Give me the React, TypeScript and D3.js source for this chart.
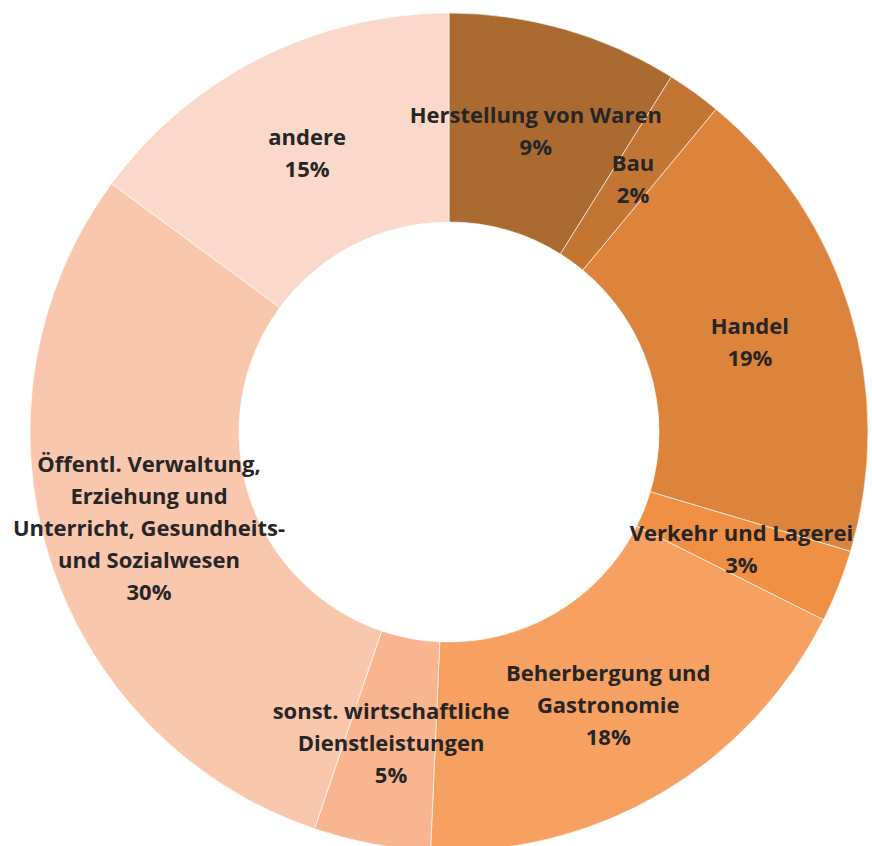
import React from "react";
import * as d3 from "d3";

const categories = [
  ["Herstellung von Waren"],
  ["Bau"],
  ["Handel"],
  ["Verkehr und Lagerei"],
  ["Beherbergung und", "Gastronomie"],
  ["sonst. wirtschaftliche", "Dienstleistungen"],
  ["Öffentl. Verwaltung,", "Erziehung und", "Unterricht, Gesundheits-", "und Sozialwesen"],
  ["andere"],
];
const values = [8.9, 2.1, 18.6, 2.8, 18.3, 4.5, 29.9, 14.9];
const colors = ["#AB6A30", "#C37534", "#DC843C", "#EF9045", "#F6A062", "#F8B590", "#F9C7AD", "#FBD9CA"];

const W = 872;
const H = 846;
const CX = 449;
const CY = 432;
const R_OUT = 419;
const R_IN = 210;
const LINE_H = 32;

export default function App() {
  const total = d3.sum(values);
  const pie = d3.pie<number>().sort(null).value((d) => d)(values);
  const arc = d3.arc<d3.PieArcDatum<number>>().innerRadius(R_IN).outerRadius(R_OUT);
  return (
    <div style={{ position: "absolute", left: 0, top: 0 }}>
      <svg width={W} height={H} style={{ display: "block" }}>
        <rect width={W} height={H} fill="#ffffff" />
        <g transform={`translate(${CX},${CY})`}>
          {pie.map((p, i) => (
            <path key={i} d={arc(p) || ""} fill={colors[i]} stroke="#ffffff" strokeOpacity={0.6} strokeWidth={1} />
          ))}
          {pie.map((p, i) => {
            const [x, y] = arc.centroid(p);
            const lines = [...categories[i], `${Math.round((values[i] / total) * 100)}%`];
            const y0 = y + 2 - ((lines.length - 1) * LINE_H) / 2;
            return (
              <text
                key={i}
                x={x}
                textAnchor="middle"
                fontFamily="'Open Sans', Lato, sans-serif"
                fontWeight="bold"
                fontSize={22}
                fill="#262626"
              >
                {lines.map((l, j) => (
                  <tspan key={j} x={x} y={y0 + j * LINE_H} dy="0.35em">
                    {l}
                  </tspan>
                ))}
              </text>
            );
          })}
        </g>
      </svg>
    </div>
  );
}
